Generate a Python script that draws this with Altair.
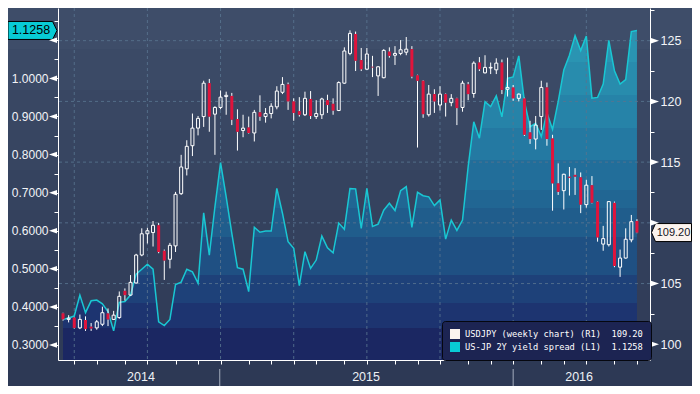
import altair as alt
import pandas as pd

# ------------------------------------------------------------------ data
WEEK_START = "2014-06-20"
N_WEEKS = 103

usdjpy_open = [
    102.55, 102.05, 102.2, 101.35, 102.0, 101.45, 101.35, 101.65, 102.55, 102.05,
    102.2, 104.4, 104.05, 105.05, 107.35, 109.1, 109.2, 109.8, 107.7, 107.0,
    108.1, 112.4, 114.45, 116.35, 117.8, 118.75, 121.5, 118.95, 119.5, 120.4,
    120.45, 118.55, 117.6, 117.85, 117.4, 119.1, 118.75, 119.0, 119.55, 120.75,
    121.4, 120.0, 119.2, 118.9, 120.2, 118.75, 118.9, 120.1, 119.8, 119.25,
    121.5, 123.95, 125.55, 123.4, 122.65, 122.85, 122.1, 121.95, 124.1, 123.8,
    123.95, 124.05, 124.3, 122.15, 121.7, 118.9, 120.6, 119.7, 120.6, 119.9,
    120.25, 119.5, 121.4, 120.65, 123.2, 122.35, 122.75, 122.6, 123.2, 121.0,
    121.15, 120.25, 120.25, 117.45, 116.9, 118.75, 121.15, 116.95, 113.25, 112.65,
    113.8, 113.95, 113.75, 111.5, 113.1, 111.75, 108.25, 108.2, 111.65, 106.35,
    107.1, 108.6, 110.15,
]
usdjpy_high = [
    102.6, 102.4, 102.25, 102.45, 102.3, 101.75, 102.0, 103.1, 102.95, 102.75,
    104.35, 104.6, 105.7, 107.45, 109.55, 109.6, 110.15, 110.0, 107.8, 108.35,
    112.55, 115.6, 116.8, 119.0, 118.8, 121.7, 121.85, 119.6, 120.9, 120.8,
    120.7, 119.35, 118.9, 118.75, 119.3, 120.5, 119.45, 119.85, 121.25, 122.0,
    121.55, 120.25, 120.35, 120.8, 120.85, 120.1, 120.3, 120.55, 120.25, 121.65,
    124.45, 125.85, 125.75, 124.4, 124.4, 123.75, 122.9, 124.3, 124.45, 124.55,
    125.05, 125.3, 124.55, 122.2, 121.75, 121.35, 121.0, 121.25, 120.65, 120.6,
    120.3, 121.7, 121.6, 123.3, 123.65, 123.8, 123.2, 123.55, 123.45, 123.6,
    121.35, 120.65, 120.3, 118.4, 118.8, 121.7, 121.55, 117.25, 114.9, 114.05,
    114.6, 114.5, 114.15, 113.55, 113.85, 111.8, 109.75, 111.8, 111.75, 107.8,
    109.55, 110.65, 110.3,
]
usdjpy_low = [
    101.95, 101.8, 101.3, 101.25, 101.1, 101.1, 101.2, 101.5, 101.5, 102.0,
    102.1, 103.6, 104.0, 105.0, 107.25, 108.3, 108.05, 107.5, 105.3, 106.25,
    107.6, 112.3, 113.9, 115.5, 117.2, 117.9, 117.5, 115.6, 119.35, 118.9,
    118.05, 115.95, 117.05, 117.35, 116.7, 118.4, 118.25, 118.6, 119.35, 120.6,
    119.3, 118.4, 118.75, 118.8, 118.55, 118.55, 118.55, 119.05, 118.9, 119.2,
    121.45, 123.8, 122.5, 122.5, 122.6, 122.0, 120.45, 121.9, 123.6, 123.0,
    123.8, 123.8, 121.9, 116.2, 118.65, 118.75, 119.05, 119.25, 118.75, 119.6,
    118.05, 119.15, 120.1, 120.3, 122.5, 122.3, 122.25, 122.25, 120.6, 120.4,
    120.05, 120.0, 117.15, 116.5, 116.05, 117.65, 116.35, 111.0, 112.3, 111.1,
    112.25, 112.3, 110.8, 111.25, 111.6, 108.45, 107.7, 108.05, 106.35, 105.55,
    107.05, 108.4, 109.15,
]
usdjpy_close = [
    102.05, 102.15, 101.35, 102.05, 101.25, 101.3, 101.85, 102.6, 102.05, 102.4,
    103.95, 104.05, 105.1, 107.35, 109.1, 109.35, 109.8, 107.6, 106.9, 108.15,
    112.35, 114.6, 116.3, 117.8, 118.6, 121.5, 118.75, 119.5, 120.35, 120.5,
    118.5, 117.5, 117.8, 117.4, 119.1, 118.75, 119.0, 119.6, 120.85, 121.4,
    120.0, 119.05, 118.9, 120.25, 118.8, 119.0, 120.2, 119.7, 119.25, 121.55,
    124.15, 125.6, 123.35, 122.65, 123.9, 122.8, 122.85, 124.2, 123.75, 123.95,
    124.25, 124.3, 122.05, 121.7, 118.95, 120.6, 120.0, 120.6, 119.9, 120.25,
    119.45, 121.5, 120.6, 123.15, 122.65, 122.8, 122.8, 123.15, 120.95, 121.15,
    120.25, 120.6, 117.25, 116.9, 118.05, 121.15, 116.9, 113.25, 112.55, 114.0,
    113.7, 113.8, 111.5, 113.1, 111.65, 108.8, 108.7, 111.75, 106.45, 107.1,
    108.65, 110.1, 109.2,
]
yield_spread = [
    0.367, 0.371, 0.376, 0.431, 0.385, 0.416, 0.418, 0.408, 0.388, 0.337,
    0.412, 0.414, 0.431, 0.486, 0.499, 0.512, 0.499, 0.361, 0.351, 0.367,
    0.459, 0.465, 0.499, 0.492, 0.462, 0.647, 0.536, 0.663, 0.779, 0.689,
    0.593, 0.503, 0.499, 0.440, 0.609, 0.596, 0.599, 0.599, 0.711, 0.646,
    0.571, 0.554, 0.456, 0.545, 0.501, 0.523, 0.586, 0.555, 0.542, 0.620,
    0.604, 0.711, 0.710, 0.606, 0.711, 0.611, 0.617, 0.654, 0.672, 0.653,
    0.705, 0.716, 0.609, 0.701, 0.692, 0.689, 0.666, 0.681, 0.578, 0.628,
    0.601, 0.628, 0.768, 0.886, 0.843, 0.939, 0.926, 0.954, 0.899, 1.000,
    1.004, 1.059, 0.939, 0.873, 0.882, 0.847, 0.910, 0.866, 0.939, 1.022,
    1.061, 1.112, 1.073, 1.111, 0.948, 0.950, 0.985, 1.100, 1.020, 0.985,
    0.997, 1.123, 1.1258,
]

series_names = ["USDJPY (weekly chart) (R1)", "US-JP 2Y yield spread (L1)"]
last_usdjpy = 109.20
last_spread = 1.1258

quarter_grid_dates = ["2014-07-04", "2014-10-03", "2015-01-02", "2015-04-03",
                      "2015-07-03", "2015-10-02", "2016-01-01", "2016-04-01"]
month_tick_dates = ["2014-07-04", "2014-08-01", "2014-09-05", "2014-10-03", "2014-11-07",
                    "2014-12-05", "2015-01-02", "2015-02-06", "2015-03-06", "2015-04-03",
                    "2015-05-01", "2015-06-05", "2015-07-03", "2015-08-07", "2015-09-04",
                    "2015-10-02", "2015-11-06", "2015-12-04", "2016-01-01", "2016-02-05",
                    "2016-03-04", "2016-04-01", "2016-05-06", "2016-06-03"]
year_labels = ["2014", "2015", "2016"]
year_label_dates = ["2014-09-25", "2015-07-02", "2016-03-23"]
year_break_dates = ["2015-01-01", "2016-01-01"]

left_tick_values = [0.30, 0.35, 0.40, 0.45, 0.50, 0.55, 0.60, 0.65, 0.70,
                    0.75, 0.80, 0.85, 0.90, 0.95, 1.00, 1.05, 1.10, 1.15]
left_major_values = [0.3, 0.4, 0.5, 0.6, 0.7, 0.8, 0.9, 1.0, 1.1]
right_tick_values = [100.0, 102.5, 105.0, 107.5, 110.0, 112.5, 115.0,
                     117.5, 120.0, 122.5, 125.0, 127.5]
right_major_values = [100, 105, 110, 115, 120, 125]
right_grid_values = [105, 110, 115, 120, 125]

# ------------------------------------------------------------------ tables
week_dates = pd.date_range(WEEK_START, periods=N_WEEKS, freq="7D").strftime("%Y-%m-%d").tolist()
candles = pd.DataFrame({"date": week_dates, "open": usdjpy_open, "high": usdjpy_high,
                        "low": usdjpy_low, "close": usdjpy_close})
spread_df = pd.DataFrame({"date": week_dates, "spread": yield_spread})


def dt(s):
    y, m, d = (int(p) for p in s.split("-"))
    return alt.DateTime(year=y, month=m, date=d, utc=True)


def banded(edges, colors):
    stops = []
    for i, c in enumerate(colors):
        stops.append(alt.GradientStop(color=c, offset=edges[i]))
        stops.append(alt.GradientStop(color=c, offset=edges[i + 1]))
    return alt.LinearGradient(gradient="linear", stops=stops, x1=0, x2=0, y1=0, y2=1)


# ------------------------------------------------------------------ styling
W, H = 592, 352
LEFT_DOMAIN = [0.2606, 1.1848]
RIGHT_DOMAIN = [98.707, 127.69]
FONT = "Liberation Sans"
CYAN = "#08cbd5"
LINE = "#19c7d3"
RED = "#e0143c"
GRID = "#58748f"

bg_edges = [0, 0.108, 0.217, 0.323, 0.429, 0.534, 0.640, 0.746, 0.852, 0.931, 1]
bg_colors = ["#3e4d69", "#3b4a66", "#394763", "#374561", "#35435f",
             "#34415d", "#323f5b", "#313d59", "#2f3b57", "#2d3955"]
area_edges = [0, 0.0956, 0.1958, 0.2959, 0.393, 0.484, 0.5387, 0.6267, 0.742, 0.827, 0.903, 1]
area_colors = ["#2a94b2", "#288cad", "#2683a8", "#2479a2", "#226e9a", "#216693",
               "#205d8c", "#1f5083", "#1e4179", "#1d3470", "#1b2762"]

x_scale = alt.Scale(type="utc", domain=[dt("2014-06-20"), dt("2016-06-13")], nice=False)
left_scale = alt.Scale(domain=LEFT_DOMAIN, zero=False, nice=False)
right_scale = alt.Scale(domain=RIGHT_DOMAIN, zero=False, nice=False)

x_axis = alt.Axis(orient="bottom", values=[dt(s) for s in month_tick_dates], labels=False,
                  tickSize=4, tickColor="white", domainColor="white", grid=False,
                  title=None, zindex=1)
left_axis = alt.Axis(orient="left", values=left_tick_values,
                     labelExpr="round(datum.value*20) % 2 == 0 && round(datum.value*10) != 11 ? format(datum.value, '.4f') : ''",
                     tickSize=4, tickColor="white", domainColor="white", labelColor="#f2f4f7",
                     labelFont=FONT, labelFontSize=12, labelPadding=6, grid=False, title=None,
                     zindex=1, labelOverlap=False, labelFlush=False)
right_axis = alt.Axis(orient="right", values=right_tick_values,
                      labelExpr="round(datum.value*2) % 2 == 0 && datum.value != 110 ? format(datum.value, 'd') : ''",
                      tickSize=4, tickColor="white", domainColor="white", labelColor="#f2f4f7",
                      labelFont=FONT, labelFontSize=12.5, labelPadding=6, grid=False, title=None,
                      zindex=1, labelOverlap=False, labelFlush=False)

color_scale = alt.Scale(domain=series_names, range=["#fbf3ee", CYAN])
legend = alt.Legend(orient="none", legendX=384, legendY=313, title=None, fillColor="#1c2452",
                    strokeColor="#05070f", cornerRadius=3, padding=8, symbolType="square",
                    symbolSize=100, symbolStrokeWidth=0, symbolOpacity=1,
                    labelFont="DejaVu Sans Mono", labelFontSize=8.7, labelColor="white",
                    labelOffset=5, rowPadding=3, labelLimit=300, zindex=1,
                    labelExpr="datum.label == '" + series_names[0] + "' ? datum.label + '\u00a0\u00a0109.20' : datum.label + '\u00a0\u00a01.1258'")


def X(field):
    return alt.X(field, type="temporal", scale=x_scale, axis=x_axis)


# ------------------------------------------------------------------ layers
background = alt.Chart(pd.DataFrame({"k": [0]})).mark_rect(fill=banded(bg_edges, bg_colors)).encode(
    x=alt.value(-50), x2=alt.value(634), y=alt.value(0), y2=alt.value(378))

area = alt.Chart(spread_df).mark_area(fill=banded(area_edges, area_colors)).encode(
    x=X("date"),
    y=alt.Y("spread:Q", scale=left_scale, axis=left_axis),
    y2=alt.Y2Datum(LEFT_DOMAIN[0]))

vgrid = alt.Chart(pd.DataFrame({"d": quarter_grid_dates})).mark_rule(
    color=GRID, strokeDash=[3, 3], strokeWidth=1, opacity=0.85).encode(x=X("d"))

hgrid = alt.Chart(pd.DataFrame({"v": right_grid_values})).mark_rule(
    color=GRID, strokeDash=[3, 3], strokeWidth=1, opacity=0.85).encode(
    y=alt.Y("v:Q", scale=right_scale, axis=None))

yL = dict(scale=left_scale, axis=None)
line = alt.Chart(spread_df).mark_line(color=LINE, strokeWidth=1.5).encode(
    x=X("date"), y=alt.Y("spread:Q", **yL))

left_box_df = pd.DataFrame({"series": [series_names[1]], "value": [last_spread],
                            "label": [f"{last_spread:.4f}"]})
left_box = alt.Chart(left_box_df).mark_point(
    shape="M-1,-0.367L0.82,-0.367L1,0L0.82,0.367L-1,0.367Z", filled=True, size=2401,
    opacity=1, stroke="black", strokeWidth=1).encode(
    x=alt.value(-25.5), y=alt.Y("value:Q", **yL),
    color=alt.Color("series:N", scale=color_scale, legend=legend))
left_text = alt.Chart(left_box_df).mark_text(
    font=FONT, fontSize=12.5, color="black", align="center", baseline="middle").encode(
    x=alt.value(-27), y=alt.Y("value:Q", **yL), text="label:N")
left_tri = alt.Chart(pd.DataFrame({"v": left_major_values})).mark_point(
    shape="M1,-0.69L-1,0L1,0.69Z", filled=True, color="white", size=64, opacity=1,
    strokeWidth=0).encode(x=alt.value(-5), y=alt.Y("v:Q", **yL))

left_group = alt.layer(line, left_box, left_text, left_tri)

yR = dict(scale=right_scale, axis=right_axis)
cbase = alt.Chart(candles).transform_calculate(
    top="max(datum.open, datum.close)", bot="min(datum.open, datum.close)")
wick_up = cbase.mark_rule(color="white", strokeWidth=1).encode(
    x=X("date"), y=alt.Y("high:Q", **yR), y2="top:Q")
wick_dn = cbase.mark_rule(color="white", strokeWidth=1).encode(
    x=X("date"), y=alt.Y("bot:Q", **yR), y2="low:Q")
body_up = cbase.transform_filter("datum.close >= datum.open").mark_bar(
    fill="transparent", stroke="white", strokeWidth=1, size=3).encode(
    x=X("date"), y=alt.Y("open:Q", **yR), y2="close:Q")
body_dn = cbase.transform_filter("datum.close < datum.open").mark_bar(
    color=RED, size=3).encode(
    x=X("date"), y=alt.Y("open:Q", **yR), y2="close:Q")

right_box_df = pd.DataFrame({"series": [series_names[0]], "value": [last_usdjpy],
                             "label": [f"{last_usdjpy:.2f}"]})
right_box = alt.Chart(right_box_df).mark_point(
    shape="M-1,0L-0.8,-0.45L1,-0.45L1,0.45L-0.8,0.45Z", filled=True, size=1600,
    opacity=1, stroke="black", strokeWidth=1).encode(
    x=alt.value(613.5), y=alt.Y("value:Q", **yR),
    color=alt.Color("series:N", scale=color_scale, legend=legend))
right_text = alt.Chart(right_box_df).mark_text(
    font=FONT, fontSize=11, color="#14161e", align="center", baseline="middle").encode(
    x=alt.value(615.5), y=alt.Y("value:Q", **yR), text="label:N")
right_tri = alt.Chart(pd.DataFrame({"v": right_major_values})).mark_point(
    shape="M-1,-0.69L1,0L-1,0.69Z", filled=True, color="white", size=64, opacity=1,
    strokeWidth=0).encode(x=alt.value(597), y=alt.Y("v:Q", **yR))

right_group = alt.layer(wick_up, wick_dn, body_up, body_dn, right_box, right_text, right_tri)

year_breaks = alt.Chart(pd.DataFrame({"d": year_break_dates})).mark_rule(
    color="#a3acbd", strokeWidth=1).encode(x=X("d"), y=alt.value(361), y2=alt.value(378))
year_text = alt.Chart(pd.DataFrame({"d": year_label_dates, "t": year_labels})).mark_text(
    font=FONT, fontSize=12.5, color="#eef1f5", baseline="middle", align="center").encode(
    x=X("d"), y=alt.value(369), text="t:N")

chart = alt.layer(
    background, area, vgrid, hgrid, left_group, right_group, year_breaks, year_text
).resolve_scale(y="independent").properties(
    width=W, height=H,
    padding={"left": 50, "top": 0, "right": 42, "bottom": 26},
    autosize=alt.AutoSizeParams(type="none"),
).configure(background="#33405b").configure_view(strokeWidth=0)

chart.save("out.html", embed_options={"renderer": "svg", "actions": False})
